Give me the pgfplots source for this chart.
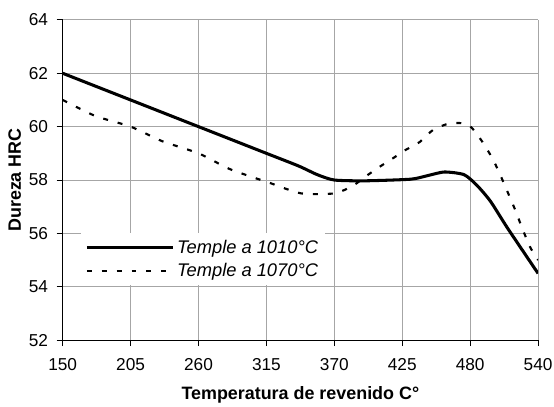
\documentclass[border=0pt]{standalone}
\usepackage{pgfplots}
\pgfplotsset{compat=1.18}
\usepackage{fontspec}
\setmainfont{Liberation Sans}
\begin{document}
\begin{tikzpicture}
\begin{axis}[
  name=ax,
  at={(0,0)}, anchor=south west,
  scale only axis,
  width=358.5pt, height=241.5pt,
  xmin=0, xmax=7, ymin=52, ymax=64,
  xtick={0,1,2,3,4,5,6,7},
  xticklabels={150,205,260,315,370,425,480,540},
  ytick={52,54,56,58,60,62,64},
  axis lines*=left,
  axis line style={black, line width=0.6pt},
  grid=major,
  major grid style={gray!70, line width=0.6pt},
  tick style={black, line width=0.6pt},
  tick align=outside,
  major tick length=4.5pt,
  /pgf/number format/assume math mode=true,
  ticklabel style={font=\fontsize{13}{15}\selectfont},
  xticklabel style={yshift=-6pt},
  yticklabel style={xshift=-3pt},
  xlabel={\textbf{Temperatura de revenido C°}},
  ylabel={\textbf{Dureza HRC}},
  xlabel style={font=\fontsize{13.5}{15}\selectfont, yshift=-5pt},
  ylabel style={font=\fontsize{13.5}{15}\selectfont, yshift=-1pt},
  legend style={at={(axis cs:0.27,56.02)}, anchor=north west, draw=none, fill=white,
    font=\itshape\fontsize{13.8}{16}\selectfont, row sep=2pt, inner sep=3pt},
  legend cell align=left,
  legend image code/.code={\draw[#1] (0pt,0pt) -- (65pt,0pt);},
]
\addplot[black, line width=2.3pt, smooth, tension=0.4] coordinates {
 (0,62) (1,61) (2,60) (3,59) (3.47,58.53) (3.75,58.2) (4,58.0)
 (4.45,57.97) (5.12,58.03) (5.35,58.15) (5.62,58.3) (5.91,58.2)
 (6.1,57.8) (6.3,57.2) (6.55,56.2) (7,54.5)
};
\addlegendentry{Temple a 1010°C}
\addplot[black, line width=1.6pt, dash pattern=on 3.75pt off 7.5pt, smooth, tension=0.4] coordinates {
 (0,61) (0.48,60.4) (1,60) (1.47,59.45) (2,59.0) (2.47,58.4) (3.04,57.9)
 (3.51,57.5) (4,57.5) (4.27,57.78) (4.47,58.15) (4.67,58.5) (4.89,58.86)
 (5.03,59.1) (5.26,59.43) (5.45,59.87) (5.69,60.12) (5.91,60.12) (6.03,59.94)
 (6.18,59.43) (6.33,58.8) (6.45,58.15) (6.66,56.9) (6.75,56.3) (6.88,55.5) (7,55.0)
};
\addlegendentry{Temple a 1070°C}
\end{axis}
\pgfresetboundingbox
\path (-47.25pt,-50pt) rectangle (370.5pt,256.5pt);
\end{tikzpicture}
\end{document}
